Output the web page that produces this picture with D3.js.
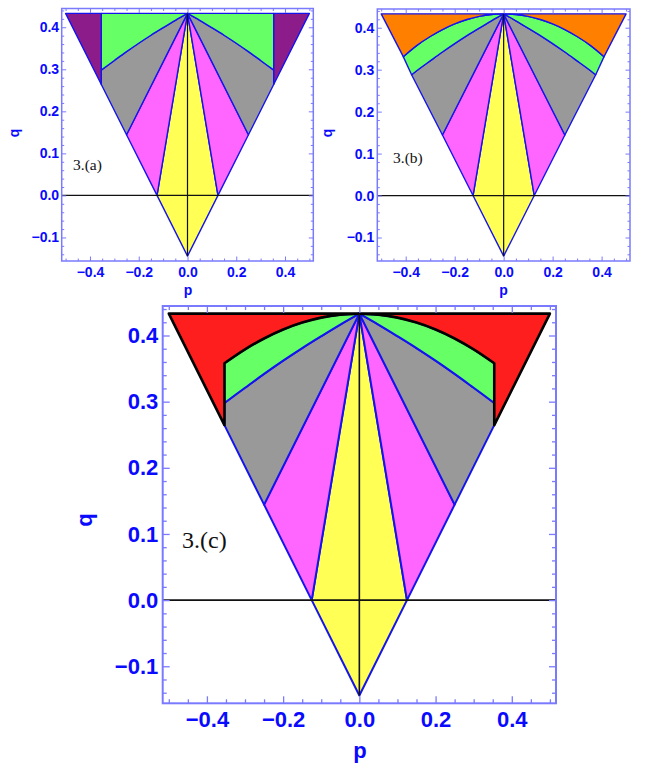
<!DOCTYPE html>
<html><head><meta charset="utf-8">
<script src="https://cdn.jsdelivr.net/npm/d3@7"></script>
<style>body{margin:0;background:#fff} svg{display:block}</style>
</head><body>
<svg id="chart" width="647" height="765"></svg>
<script>
// ---------------- data ----------------
const apexP = 0, apexQ = 0.433;
const cornerP = [-0.5, 0.5, 0];
const cornerQ = [0.433, 0.433, -0.1443];
const rayEdgeP = [0.125, 0.25];          // rays from apex meet right edge here
const rayEdgeQ = [0.0, 0.1443];
const cutP = 0.354;                       // vertical cut line
const cutQ = [0.2645, 0.298, 0.358];      // edge, inner curve, outer arc at the cut
const innerCurveP = [0, 0.05, 0.1, 0.15, 0.2, 0.25, 0.3, 0.354];
const innerCurveQ = [0.433, 0.4165, 0.399, 0.381, 0.362, 0.342, 0.321, 0.298];
const innerEndB = [0.376, 0.288];
const outerArcP = [0, 0.05, 0.1, 0.15, 0.2, 0.25, 0.3, 0.354];
const outerArcQ = [0.433, 0.4315, 0.427, 0.4195, 0.409, 0.3955, 0.379, 0.358];
const outerEndB = [0.41, 0.331];
const pTicks = [-0.4, -0.2, 0, 0.2, 0.4];
const qTicks = [-0.1, 0, 0.1, 0.2, 0.3, 0.4];
const pDomain = [-0.516, 0.516];
const qDomain = [-0.156, 0.4446];
const panelTags = ["3.(a)", "3.(b)", "3.(c)"];

// ---------------- styles ----------------
const COL = {
  purple: "#8b1c8a", green: "#66ff66", gray: "#999999", magenta: "#ff66ff",
  yellow: "#ffff55", orange: "#ff8000", red: "#ff1e1e",
  edge: "#1414ee", frame: "#7a7aff", label: "#0a0aff", black: "#000"
};
const LAYOUT = [
  {x0: 61.7, x1: 313.3, y0: 8.5, y1: 261, tickFont: 14, major: 4.5, minor: 2.5, xPad: 6, yPad: 2.6,
   qLab: [18.5, 133], pLab: [188, 294.5], labFont: 14, tag: [73, 169.5], tagFont: 15.5, lw: 1.4, frameW: 1.5},
  {x0: 377.3, x1: 630, y0: 9, y1: 261, tickFont: 14, major: 4.5, minor: 2.5, xPad: 6, yPad: 3,
   qLab: [332, 133], pLab: [503.5, 294.5], labFont: 14, tag: [393, 162.5], tagFont: 15.5, lw: 1.4, frameW: 1.5},
  {x0: 162.7, x1: 556, y0: 306, y1: 703.3, tickFont: 22, major: 7, minor: 4, xPad: 8.4, yPad: 4.4,
   qLab: [92, 520], pLab: [360, 758], labFont: 22, tag: [182, 547.5], tagFont: 24, lw: 2, frameW: 2}
];

const svg = d3.select("#chart");
const zip = (a, b) => a.map((v, i) => [v, b[i]]);
const mir = pts => pts.map(d => [-d[0], d[1]]);

function buildPath(x, y, segs) {
  const ctx = d3.path();
  let started = false;
  const wrap = {
    moveTo(a, b) { if (!started) { ctx.moveTo(a, b); started = true; } else ctx.lineTo(a, b); },
    lineTo(a, b) { ctx.lineTo(a, b); },
    bezierCurveTo(a, b, c, d, e, f) { ctx.bezierCurveTo(a, b, c, d, e, f); },
    quadraticCurveTo(a, b, c, d) { ctx.quadraticCurveTo(a, b, c, d); },
    closePath() {}
  };
  for (const s of segs) {
    d3.line().x(d => x(d[0])).y(d => y(d[1]))
      .curve(s.curve ? d3.curveCatmullRom : d3.curveLinear).context(wrap)(s.pts);
  }
  ctx.closePath();
  return ctx.toString();
}
const mirSegs = segs => segs.map(s => ({curve: s.curve, pts: mir(s.pts)}));

function drawPanel(idx) {
  const L = LAYOUT[idx];
  const x = d3.scaleLinear().domain(pDomain).range([L.x0, L.x1]);
  const y = d3.scaleLinear().domain(qDomain).range([L.y1, L.y0]);
  const g = svg.append("g");

  const A = [apexP, apexQ];
  const E1 = [rayEdgeP[0], rayEdgeQ[0]];
  const E2 = [rayEdgeP[1], rayEdgeQ[1]];
  const bottom = [cornerP[2], cornerQ[2]];
  const topR = [cornerP[1], cornerQ[1]];
  const cutLow = [cutP, cutQ[0]], cutMid = [cutP, cutQ[1]], cutHigh = [cutP, cutQ[2]], cutTop = [cutP, apexQ];
  const inner = zip(innerCurveP, innerCurveQ);
  const outer = zip(outerArcP, outerArcQ);

  const regions = [];
  regions.push({fill: COL.yellow, sym: false, segs: [{pts: [A, E1, bottom, [-E1[0], E1[1]]]}]});
  regions.push({fill: COL.magenta, sym: true, segs: [{pts: [A, E2, E1]}]});
  if (idx === 0) {
    regions.push({fill: COL.gray, sym: true, segs: [{curve: true, pts: inner}, {pts: [cutLow, E2]}]});
    regions.push({fill: COL.green, sym: true, segs: [{pts: [A, cutTop, cutMid]}, {curve: true, pts: inner.slice().reverse()}]});
    regions.push({fill: COL.purple, sym: true, segs: [{pts: [cutTop, topR, cutLow]}]});
  } else if (idx === 1) {
    const inB = inner.concat([innerEndB]);
    const outB = outer.concat([outerEndB]);
    regions.push({fill: COL.gray, sym: true, segs: [{curve: true, pts: inB}, {pts: [E2]}]});
    regions.push({fill: COL.green, sym: true, segs: [{curve: true, pts: outB}, {pts: [innerEndB]}, {curve: true, pts: inB.slice().reverse()}]});
    regions.push({fill: COL.orange, sym: true, segs: [{pts: [A, topR, outerEndB]}, {curve: true, pts: outB.slice().reverse()}]});
  } else {
    regions.push({fill: COL.gray, sym: true, segs: [{curve: true, pts: inner}, {pts: [cutLow, E2]}]});
    regions.push({fill: COL.green, sym: true, segs: [{curve: true, pts: outer}, {pts: [cutMid]}, {curve: true, pts: inner.slice().reverse()}]});
    regions.push({fill: COL.red, sym: true, stroke: COL.black, sw: 2.6, segs: [{pts: [A, topR, cutLow, cutHigh]}, {curve: true, pts: outer.slice().reverse()}]});
  }

  const shapes = [];
  for (const r of regions) {
    shapes.push({fill: r.fill, stroke: r.stroke || COL.edge, sw: r.sw || L.lw, d: buildPath(x, y, r.segs)});
    if (r.sym) shapes.push({fill: r.fill, stroke: r.stroke || COL.edge, sw: r.sw || L.lw, d: buildPath(x, y, mirSegs(r.segs))});
  }
  // non-black shapes first, black-outlined last
  shapes.sort((a, b) => (a.stroke === COL.black) - (b.stroke === COL.black));
  g.selectAll("path.reg").data(shapes).join("path").attr("class", "reg")
    .attr("d", d => d.d).attr("fill", d => d.fill).attr("stroke", d => d.stroke)
    .attr("stroke-width", d => d.sw).attr("stroke-linejoin", "round");

  // black reference lines
  g.append("line").attr("x1", L.x0).attr("x2", L.x1).attr("y1", y(0)).attr("y2", y(0))
    .attr("stroke", "#111").attr("stroke-width", idx === 2 ? 1.6 : 1.2);
  g.append("line").attr("x1", x(0)).attr("x2", x(0)).attr("y1", y(apexQ)).attr("y2", y(cornerQ[2]))
    .attr("stroke", "#111").attr("stroke-width", idx === 2 ? 1.6 : 1.2);

  // frame and ticks
  g.append("rect").attr("x", L.x0).attr("y", L.y0).attr("width", L.x1 - L.x0).attr("height", L.y1 - L.y0)
    .attr("fill", "none").attr("stroke", COL.frame).attr("stroke-width", L.frameW);

  const fmt = d3.format(".1f");
  const near = (v, arr) => arr.some(t => Math.abs(t - v) < 1e-9);
  const pMinor = x.ticks(20).filter(v => !near(v, pTicks));
  const qMinor = y.ticks(30).filter(v => !near(v, qTicks));

  function styleAxis(sel, withText) {
    sel.select(".domain").remove();
    sel.selectAll("line").attr("stroke", COL.frame).attr("stroke-width", idx === 2 ? 1.3 : 1);
    sel.attr("font-family", "'Liberation Sans', Arial, sans-serif").attr("font-size", L.tickFont).attr("font-weight", "bold");
    if (withText) sel.selectAll("text").attr("fill", COL.label);
  }
  const mk = (axisFn, scale, vals, size, pad, labels) =>
    axisFn(scale).tickValues(vals).tickSizeInner(-size).tickSizeOuter(0).tickPadding(pad)
      .tickFormat(labels ? fmt : () => "");

  g.append("g").attr("transform", `translate(0,${L.y1})`).call(mk(d3.axisBottom, x, pTicks, L.major, L.xPad, true)).call(s => styleAxis(s, true));
  g.append("g").attr("transform", `translate(0,${L.y1})`).call(mk(d3.axisBottom, x, pMinor, L.minor, 0, false)).call(s => styleAxis(s, false));
  g.append("g").attr("transform", `translate(0,${L.y0})`).call(mk(d3.axisTop, x, pTicks, L.major, 0, false)).call(s => styleAxis(s, false));
  g.append("g").attr("transform", `translate(0,${L.y0})`).call(mk(d3.axisTop, x, pMinor, L.minor, 0, false)).call(s => styleAxis(s, false));
  g.append("g").attr("transform", `translate(${L.x0},0)`).call(mk(d3.axisLeft, y, qTicks, L.major, L.yPad, true)).call(s => styleAxis(s, true));
  g.append("g").attr("transform", `translate(${L.x0},0)`).call(mk(d3.axisLeft, y, qMinor, L.minor, 0, false)).call(s => styleAxis(s, false));
  g.append("g").attr("transform", `translate(${L.x1},0)`).call(mk(d3.axisRight, y, qTicks, L.major, 0, false)).call(s => styleAxis(s, false));
  g.append("g").attr("transform", `translate(${L.x1},0)`).call(mk(d3.axisRight, y, qMinor, L.minor, 0, false)).call(s => styleAxis(s, false));

  // axis titles
  g.append("text").attr("transform", `translate(${L.qLab[0]},${L.qLab[1]}) rotate(-90)`)
    .attr("text-anchor", "middle").attr("font-family", "'Liberation Sans', Arial, sans-serif")
    .attr("font-weight", "bold").attr("font-size", L.labFont).attr("fill", COL.label).text("q");
  g.append("text").attr("x", L.pLab[0]).attr("y", L.pLab[1])
    .attr("text-anchor", "middle").attr("font-family", "'Liberation Sans', Arial, sans-serif")
    .attr("font-weight", "bold").attr("font-size", L.labFont).attr("fill", COL.label).text("p");
  // panel tag
  g.append("text").attr("x", L.tag[0]).attr("y", L.tag[1])
    .attr("font-family", "'Liberation Serif', 'Times New Roman', serif")
    .attr("font-size", L.tagFont).attr("fill", "#111").text(panelTags[idx]);
}

[0, 1, 2].forEach(drawPanel);
</script>
</body></html>
